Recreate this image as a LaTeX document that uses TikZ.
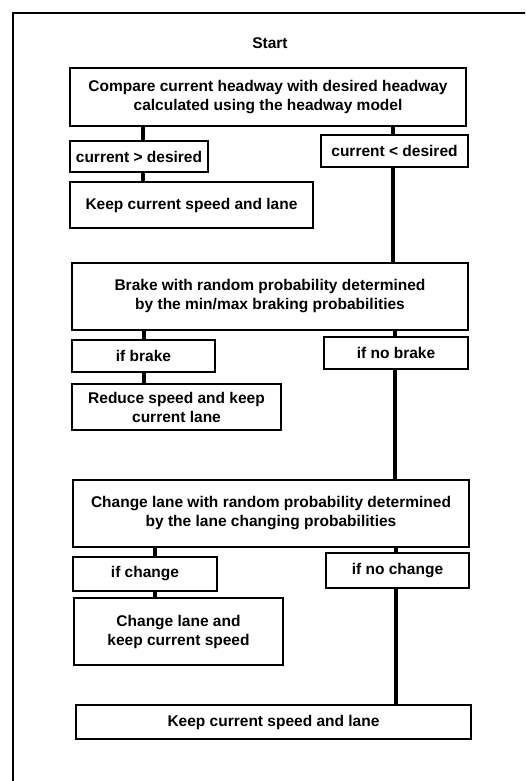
\documentclass[tikz,border=0pt]{standalone}
\usepackage{fontspec}
\setmainfont{Liberation Sans}
\usetikzlibrary{calc}

\begin{document}
\begin{tikzpicture}[x=1pt,y=-1pt,
    txt/.style={font=\fontsize{15.5}{19}\selectfont\bfseries},
    box/.style={txt,draw,line width=1.9pt,align=center,inner sep=0pt},
    link/.style={line width=3.8pt}]
    \useasboundingbox (0,0) rectangle (525,781);
    \clip (0,0) rectangle (525,781);
    % outer frame, cut by the page
    \draw[line width=1.8pt] (13,800) -- (13,13) -- (540,13);
    % x of the links
    \coordinate (l1) at (143,0);
    \coordinate (r1) at (393,0);
    \coordinate (l2) at (144,0);
    \coordinate (r2) at (395,0);
    \coordinate (l3) at (155,0);
    \coordinate (r3) at (396,0);
    \node[txt] (start) at (270,43) {Start};
    \node[box,minimum width=396pt,minimum height=58pt] (compare) at (268,97)
    {Compare current headway with desired headway\\calculated using the headway model};
    \node[box,minimum width=138pt,minimum height=31pt] (gt) at (139,156.5) {current > desired};
    \node[box,minimum width=147pt,minimum height=32pt] (lt) at (394.5,151) {current < desired};
    \node[box,minimum width=243pt,minimum height=46pt] (keepa) at (191.5,205) {Keep current speed and lane};
    \node[box,minimum width=396pt,minimum height=67pt] (brake) at (270,296.5)
    {Brake with random probability determined\\by the min/max braking probabilities};
    \node[box,minimum width=143pt,minimum height=32pt] (ifbrake) at (143.5,356) {if brake};
    \node[box,minimum width=144pt,minimum height=32pt] (ifnobrake) at (396,353) {if no brake};
    \node[box,minimum width=209pt,minimum height=46pt] (reduce) at (176.5,407)
    {Reduce speed and keep\\current lane};
    \node[box,minimum width=396pt,minimum height=67pt] (changep) at (271,513.5)
    {Change lane with random probability determined\\by the lane changing probabilities};
    \node[box,minimum width=144pt,minimum height=34pt] (ifchange) at (145,574) {if change};
    \node[box,minimum width=143pt,minimum height=35pt] (ifnochange) at (397.5,570.5) {if no change};
    \node[box,minimum width=209pt,minimum height=67pt] (changek) at (178.5,631.5)
    {Change lane and\\keep current speed};
    \node[box,minimum width=395pt,minimum height=34pt] (keepb) at (273.5,722) {Keep current speed and lane};
    % links
    \draw[link] (l1 |- compare.south) -- (l1 |- gt.north);
    \draw[link] (l1 |- gt.south) -- (l1 |- keepa.north);
    \draw[link] (r1 |- compare.south) -- (r1 |- lt.north);
    \draw[link] (r1 |- lt.south) -- (r1 |- brake.north);
    \draw[link] (l2 |- brake.south) -- (l2 |- ifbrake.north);
    \draw[link] (l2 |- ifbrake.south) -- (l2 |- reduce.north);
    \draw[link] (r2 |- brake.south) -- (r2 |- ifnobrake.north);
    \draw[link] (r2 |- ifnobrake.south) -- (r2 |- changep.north);
    \draw[link] (l3 |- changep.south) -- (l3 |- ifchange.north);
    \draw[link] (l3 |- ifchange.south) -- (l3 |- changek.north);
    \draw[link] (r3 |- changep.south) -- (r3 |- ifnochange.north);
    \draw[link] (r3 |- ifnochange.south) -- (r3 |- keepb.north);
\end{tikzpicture}
\end{document}
